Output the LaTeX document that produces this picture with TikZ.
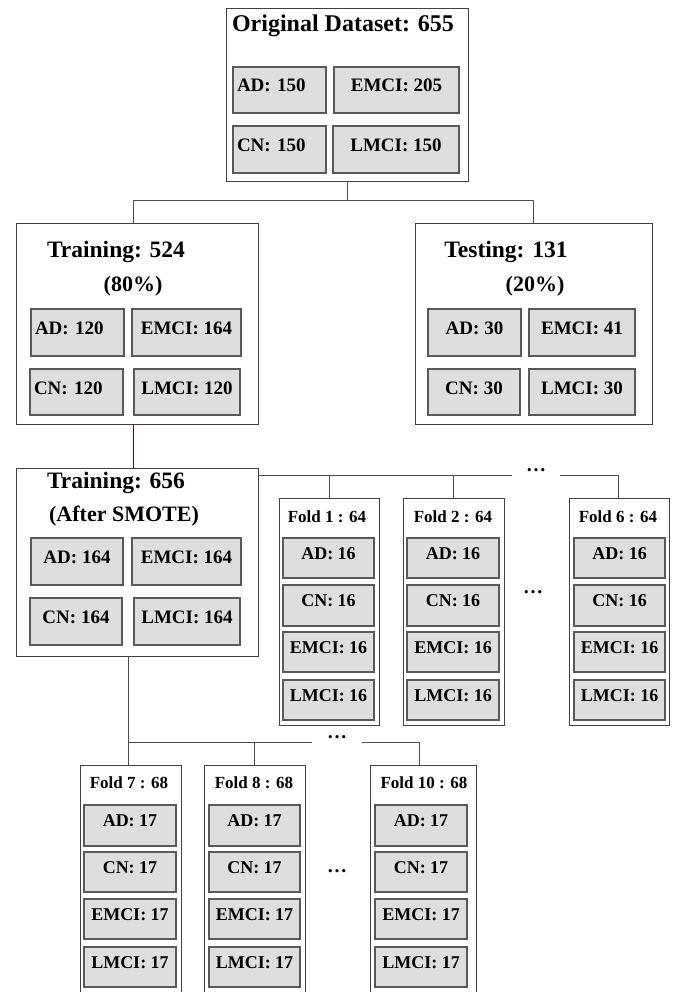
\documentclass[tikz,border=0pt]{standalone}
\usepackage{fontspec}
\setmainfont{Liberation Serif}
\newcommand\bxn[6][]{\node[#1, minimum width={(#5-#3)*1pt}, minimum height={(#6-#4)*1pt}] (#2) at ({(#3+#5)/2},{(#4+#6)/2})}
\tikzset{
 outer/.style={draw=black!75, line width=0.9pt, fill=white, inner sep=0pt},
 inbox/.style={draw=black!65, line width=1.1pt, fill=black!13, inner sep=0pt, font=\bfseries\fontsize{19}{20}\selectfont, text height=14pt, text depth=10pt},
 leftbox/.style={inbox, inner xsep=4pt, text width=85pt, align=left},
 fbox/.style={inbox, font=\bfseries\fontsize{18}{19}\selectfont, text height=13pt, text depth=11pt},
 ttl/.style={font=\bfseries\fontsize{23.5}{24}\selectfont, anchor=base, inner sep=0pt},
 bigttl/.style={font=\bfseries\fontsize{24}{25}\selectfont, anchor=base, inner sep=0pt},
 sub/.style={font=\bfseries\fontsize{22}{23}\selectfont, anchor=base, inner sep=0pt},
 ftl/.style={font=\bfseries\fontsize{17}{18}\selectfont, anchor=base, inner sep=0pt},
 conn/.style={draw=black!70, line width=0.9pt},
 redconn/.style={draw=red!50!black, line width=0.8pt},
 dots/.style={font=\bfseries\fontsize{20}{20}\selectfont, inner sep=0pt},
}
\begin{document}
\begin{tikzpicture}[x=1pt,y=-1pt]
\useasboundingbox[fill=white] (0,0) rectangle (676,992);

% ---------- original dataset ----------
\bxn[outer]{orig}{226}{8}{468}{181} {};
\node[bigttl] (origt) at (343,32) {Original Dataset: 655};
\bxn[leftbox]{oad}{233}{67}{326}{113} {AD: 150};
\bxn[inbox]{oem}{334}{67}{459}{113} {EMCI: 205};
\bxn[leftbox]{ocn}{233}{126}{326}{173} {CN: 150};
\bxn[inbox]{olm}{333}{126}{459}{173} {LMCI: 150};

% ---------- training 524 ----------
\bxn[outer]{train}{16}{223}{258}{424} {};
\node[ttl] (traint) at (116,258) {Training: 524};
\node[sub] (trainp) at (133,291) {(80\%)};
\bxn[leftbox]{tad}{31}{309}{124}{356} {AD: 120};
\bxn[inbox]{tem}{132}{309}{241}{356} {EMCI: 164};
\bxn[leftbox]{tcn}{30}{369}{123}{415} {CN: 120};
\bxn[inbox]{tlm}{134}{369}{240}{415} {LMCI: 120};

% ---------- testing 131 ----------
\bxn[outer]{test}{415}{223}{652}{424} {};
\node[ttl] (testt) at (506,258) {Testing: 131};
\node[sub] (testp) at (535,291) {(20\%)};
\bxn[inbox]{sad}{428}{309}{521}{356} {AD: 30};
\bxn[inbox]{sem}{529}{309}{635}{356} {EMCI: 41};
\bxn[inbox]{scn}{428}{369}{520}{415} {CN: 30};
\bxn[inbox]{slm}{529}{369}{635}{415} {LMCI: 30};

% ---------- training 656 (after SMOTE) ----------
\bxn[outer]{smote}{16}{468}{258}{656} {};
\node[ttl] (smotet) at (116,488) {Training: 656};
\node[sub] (smotep) at (124,521) {(After SMOTE)};
\bxn[inbox]{mad}{31}{538}{123}{585} {AD: 164};
\bxn[inbox]{mem}{132}{538}{241}{585} {EMCI: 164};
\bxn[inbox]{mcn}{30}{598}{122}{645} {CN: 164};
\bxn[inbox]{mlm}{134}{598}{240}{645} {LMCI: 164};

% ---------- folds 1, 2, 6 ----------
\bxn[outer]{fa}{279}{498}{379}{725} {};
\node[ftl] (fat) at (327,522) {Fold 1 : 64};
\bxn[fbox]{fa1}{283}{538}{374}{578} {AD: 16};
\bxn[fbox]{fa2}{283}{585}{374}{626} {CN: 16};
\bxn[fbox]{fa3}{283}{632}{374}{672} {EMCI: 16};
\bxn[fbox]{fa4}{283}{680}{374}{720} {LMCI: 16};

\bxn[outer]{fb}{403}{498}{504}{725} {};
\node[ftl] (fbt) at (453,522) {Fold 2 : 64};
\bxn[fbox]{fb1}{407}{538}{499}{578} {AD: 16};
\bxn[fbox]{fb2}{407}{585}{499}{626} {CN: 16};
\bxn[fbox]{fb3}{407}{632}{499}{672} {EMCI: 16};
\bxn[fbox]{fb4}{407}{680}{499}{720} {LMCI: 16};

\bxn[outer]{fc}{569}{498}{669}{725} {};
\node[ftl] (fct) at (618,522) {Fold 6 : 64};
\bxn[fbox]{fc1}{574}{538}{665}{578} {AD: 16};
\bxn[fbox]{fc2}{574}{585}{665}{626} {CN: 16};
\bxn[fbox]{fc3}{574}{632}{665}{672} {EMCI: 16};
\bxn[fbox]{fc4}{574}{680}{665}{720} {LMCI: 16};

\node[dots] (dmid1) at (533,592) {…};

% ---------- folds 7, 8, 10 ----------
\bxn[outer]{fd}{80}{765}{181}{1000} {};
\node[ftl] (fdt) at (129,788) {Fold 7 : 68};
\bxn[fbox]{fd1}{84}{805}{176}{846} {AD: 17};
\bxn[fbox]{fd2}{84}{852}{176}{892} {CN: 17};
\bxn[fbox]{fd3}{84}{899}{176}{939} {EMCI: 17};
\bxn[fbox]{fd4}{84}{947}{176}{987} {LMCI: 17};

\bxn[outer]{fe}{204}{765}{305}{1000} {};
\node[ftl] (fet) at (254,788) {Fold 8 : 68};
\bxn[fbox]{fe1}{209}{805}{300}{846} {AD: 17};
\bxn[fbox]{fe2}{209}{852}{300}{892} {CN: 17};
\bxn[fbox]{fe3}{209}{899}{300}{939} {EMCI: 17};
\bxn[fbox]{fe4}{209}{947}{300}{987} {LMCI: 17};

\bxn[outer]{ff}{370}{765}{476}{1000} {};
\node[ftl] (fft) at (424,788) {Fold 10 : 68};
\bxn[fbox]{ff1}{375}{805}{467}{846} {AD: 17};
\bxn[fbox]{ff2}{375}{852}{467}{892} {CN: 17};
\bxn[fbox]{ff3}{375}{899}{467}{939} {EMCI: 17};
\bxn[fbox]{ff4}{375}{947}{467}{987} {LMCI: 17};

\node[dots] (dmid2) at (337,871) {…};

% ---------- connectors ----------
\coordinate (tl) at (133,200);
\coordinate (tr) at (533,200);
\draw[conn] (orig.south) -- (orig.south |- tl);
\draw[conn] (tl |- train.north) -- (tl) -- (tr) -- (tr |- test.north);
\draw[redconn] (tl |- train.south) -- (tl |- smote.north);

\coordinate (h1) at (258,475);
\coordinate (g1a) at (512,475);
\coordinate (g1b) at (560,475);
\coordinate (g1c) at (618,475);
\node[dots] (dtop1) at (536,470) {…};
\draw[conn] (h1) -- (g1a);
\draw[conn] (g1b) -- (g1c) -- (g1c |- fc.north);
\draw[conn] (fa.north |- h1) -- (fa.north);
\draw[conn] (fb.north |- h1) -- (fb.north);

\coordinate (h2) at (128,742);
\coordinate (g2a) at (312,742);
\coordinate (g2b) at (362,742);
\coordinate (g2c) at (419,742);
\node[dots] (dtop2) at (337,737) {…};
\draw[conn] (h2 |- smote.south) -- (h2 |- fd.north);
\draw[conn] (h2) -- (g2a);
\draw[conn] (g2b) -- (g2c) -- (g2c |- ff.north);
\draw[conn] (fe.north |- h2) -- (fe.north);
\end{tikzpicture}
\end{document}
